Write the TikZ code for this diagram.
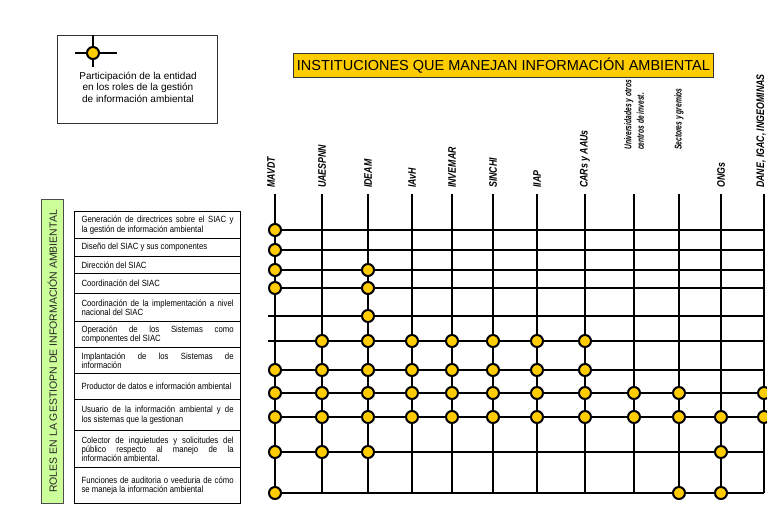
\documentclass[tikz,border=0pt]{standalone}
\usepackage{fontspec}
\setmainfont{Liberation Sans}
\newfontfamily\narrowfont{Liberation Sans}[FakeStretch=0.86]
\newfontfamily\headfont{Liberation Sans}[FakeStretch=0.8]
\newfontfamily\condfont{Liberation Sans}[FakeStretch=0.68]
\definecolor{gold}{RGB}{255,204,0}
\definecolor{lgreen}{RGB}{204,255,153}
\begin{document}
\begin{tikzpicture}[x=1pt,y=-1pt,
  gridline/.style={line width=1.2pt, black},
  dot/.style={circle, draw=black, line width=2pt, fill=gold, minimum size=12pt, inner sep=0pt},
  rolebox/.style={draw=black, line width=1.2pt, anchor=north west, text width=152pt, align=justify,
     inner xsep=7pt, inner ysep=0pt, font=\narrowfont\fontsize{9}{9.3}\selectfont},
  colhead/.style={font=\headfont\bfseries\itshape\fontsize{11}{12}\selectfont, rotate=90, anchor=west, inner sep=0pt},
  smallhead/.style={font=\condfont\bfseries\itshape\fontsize{9.8}{12.5}\selectfont, rotate=90, anchor=west, inner sep=0pt}]
\useasboundingbox[fill=white] (0,0) rectangle (767,506);

% legend
\node[draw=black!80, line width=1pt, minimum width=160pt, minimum height=88pt, anchor=north west, inner sep=0pt] (legend) at (57,35) {};
\coordinate (lgT) at (93,35);
\coordinate (lgB) at (93,67);
\coordinate (lgL) at (75,53);
\coordinate (lgR) at (117,53);
\draw[gridline] (lgT) -- (lgB);
\draw[gridline] (lgL) -- (lgR);
\node[dot] (lgdot) at (93,53) {};
\node[align=center, font=\fontsize{10}{11.6}\selectfont, inner sep=0pt] (lgtext) at (138,87) {Participación de la entidad\\en los roles de la gestión\\de información ambiental};

% title
\node[draw=black!80, line width=0.8pt, fill=gold, minimum width=420pt, minimum height=24pt, anchor=north west, inner sep=0pt,
  font=\fontsize{14.5}{16}\selectfont] (title) at (293,53) {INSTITUCIONES QUE MANEJAN INFORMACIÓN AMBIENTAL};

% roles side box
\node[draw=black!70, line width=0.8pt, fill=lgreen, minimum width=22pt, minimum height=304pt, anchor=north west, inner sep=0pt] (rolesbox) at (41,199) {};
\node[rotate=90, font=\fontsize{10.5}{12}\selectfont, text=black!85, inner sep=0pt] (rolestext) at (rolesbox.center) {ROLES EN LA GESTIOPN DE INFORMACIÓN AMBIENTAL};

% role table
\node[rolebox, minimum height=27pt] (r1) at (74,211) {Generación de directrices sobre el SIAC y\linebreak la gestión de información ambiental};
\node[rolebox, minimum height=18pt] (r2) at (74,238) {Diseño del SIAC y sus componentes};
\node[rolebox, minimum height=17pt] (r3) at (74,256) {Dirección del SIAC};
\node[rolebox, minimum height=20pt] (r4) at (74,273) {Coordinación del SIAC};
\node[rolebox, minimum height=28pt] (r5) at (74,293) {Coordinación de la implementación a nivel\linebreak nacional del SIAC};
\node[rolebox, minimum height=26pt] (r6) at (74,321) {Operación de los Sistemas como\linebreak componentes del SIAC};
\node[rolebox, minimum height=26pt] (r7) at (74,347) {Implantación de los Sistemas de\linebreak información};
\node[rolebox, minimum height=26pt] (r8) at (74,373) {Productor de datos e información ambiental};
\node[rolebox, minimum height=31pt] (r9) at (74,399) {Usuario de la información ambiental y de\linebreak los sistemas que la gestionan};
\node[rolebox, minimum height=37pt] (r10) at (74,430) {Colector de inquietudes y solicitudes del\linebreak público respecto al manejo de la\linebreak información ambiental.};
\node[rolebox, minimum height=36pt] (r11) at (74,467) {Funciones de auditoria o veeduria de cómo\linebreak se maneja la información ambiental};

% columns
\foreach \i/\x in {1/275,2/322,3/368,4/412,5/452,6/493,7/537,8/585,9/634,10/679,11/721,12/764}{
  \coordinate (col\i) at (\x,194);
  \coordinate (colb\i) at (\x,493);
  \draw[gridline] (col\i) -- (colb\i);
}
% rows
\foreach \j/\y/\xl in {1/230/275,2/250/275,3/270/275,4/288/275,5/316/268,6/341/268,7/370/275,8/393/275,9/417/275,10/452/275,11/493/275}{
  \coordinate (rowl\j) at (\xl,\y);
  \coordinate (rowr\j) at (764,\y);
  \draw[gridline] (rowl\j) -- (rowr\j);
}

% column headings
\node[colhead] (h1) at ([xshift=-4pt]col1 |- 0,188) {MAVDT};
\node[colhead] (h2) at (col2 |- 0,188) {UAESPNN};
\node[colhead] (h3) at (col3 |- 0,188) {IDEAM};
\node[colhead] (h4) at (col4 |- 0,188) {IAvH};
\node[colhead] (h5) at (col5 |- 0,188) {INVEMAR};
\node[colhead] (h6) at (col6 |- 0,188) {SINCHI};
\node[colhead] (h7) at (col7 |- 0,188) {IIAP};
\node[colhead] (h8) at (col8 |- 0,188) {CARs y AAUs};
\node[smallhead, align=left] (h9) at (col9 |- 0,150) {Universidades y otros\\centros de invest.};
\node[smallhead] (h10) at (col10 |- 0,150) {Sectores y gremios};
\node[colhead] (h11) at (col11 |- 0,188) {ONGs};
\node[colhead] (h12) at ([xshift=-3pt]col12 |- 0,188) {DANE, IGAC, INGEOMINAS};

% participation dots
\foreach \r/\cols in {1/{1},2/{1},3/{1,3},4/{1,3},5/{3},6/{2,3,4,5,6,7,8},7/{1,2,3,4,5,6,7,8},
   8/{1,2,3,4,5,6,7,8,9,10,12},9/{1,2,3,4,5,6,7,8,9,10,11,12},10/{1,2,3,11},11/{1,10,11}}{
  \foreach \c in \cols {
    \node[dot] (d\r-\c) at (col\c |- rowr\r) {};
  }
}
\end{tikzpicture}
\end{document}
